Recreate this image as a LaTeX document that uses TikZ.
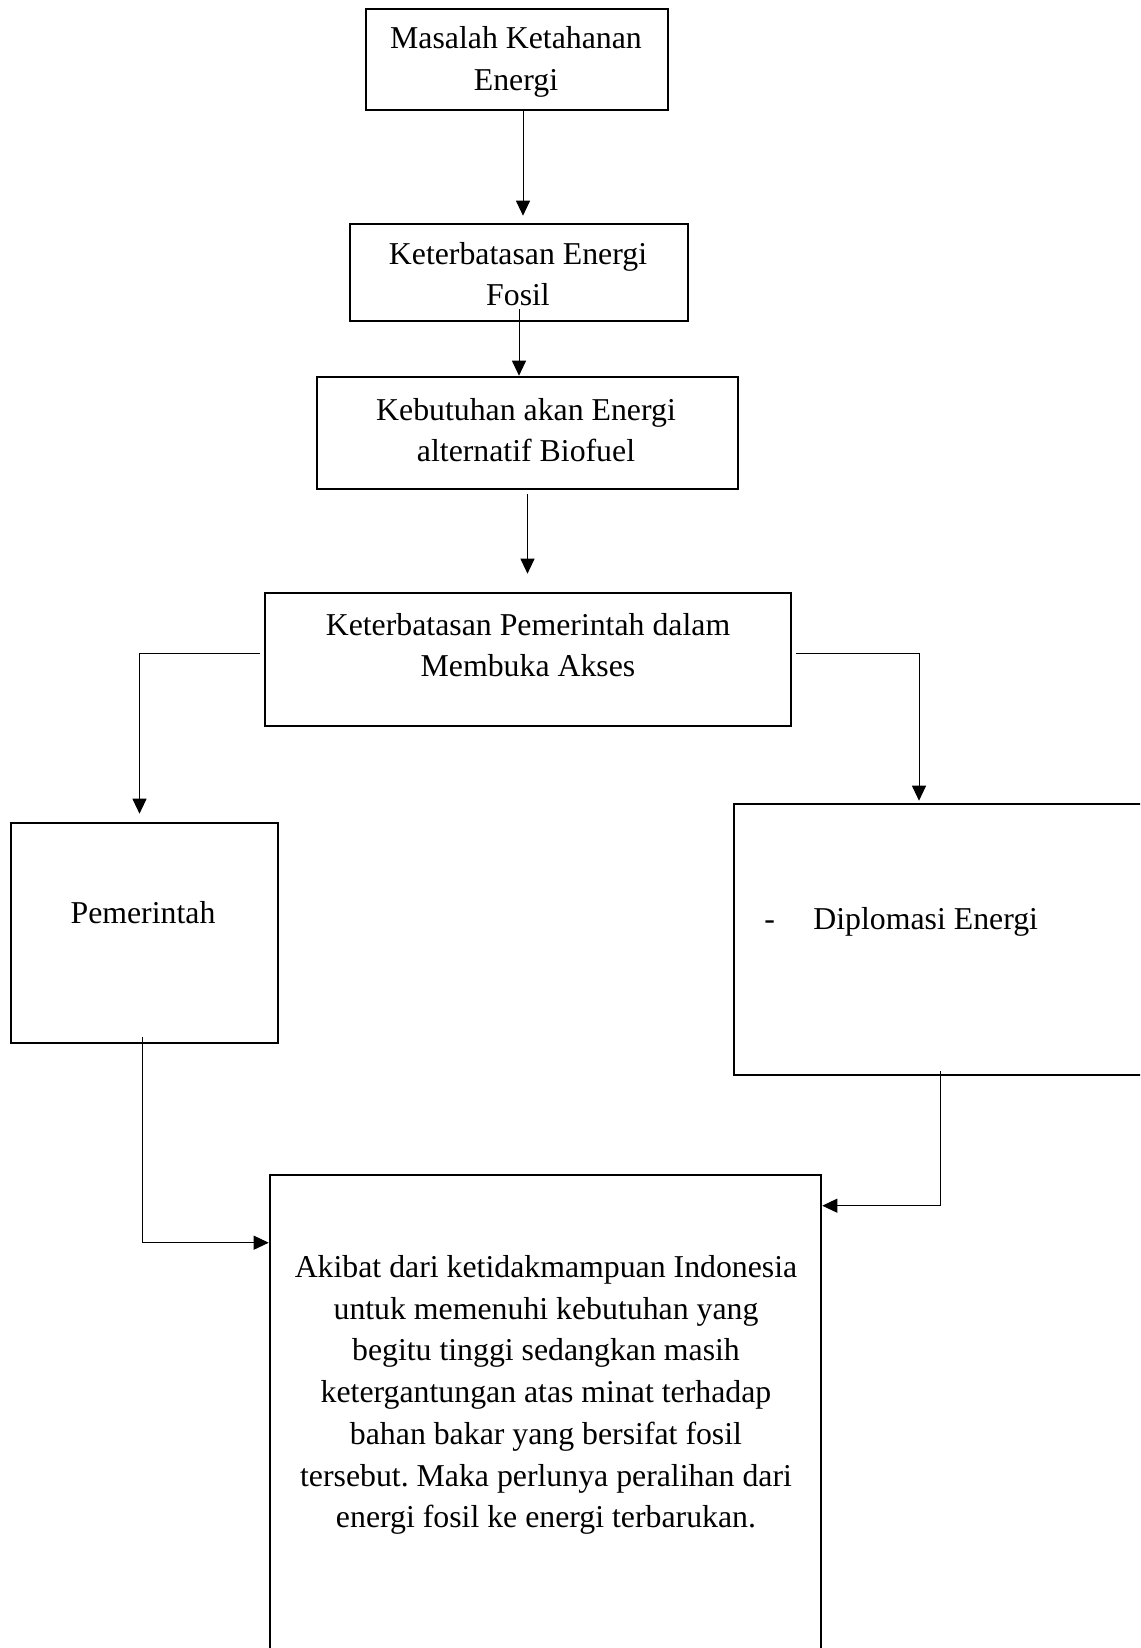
\documentclass[tikz,border=0pt]{standalone}
\usepackage{fontspec}
\setmainfont{Liberation Serif}
\usepackage{tikz}
\usetikzlibrary{arrows.meta}
\frenchspacing

\begin{document}
\begin{tikzpicture}[x=0.5pt, y=-0.5pt,
    box/.style={draw, line width=1.3pt, inner sep=0pt},
    txt/.style={align=center, inner sep=0pt, font=\fontsize{15.9pt}{20.85pt}\selectfont},
    arr/.style={-{Triangle[length=7.5pt,width=7pt]}, line width=0.5pt}]
    \useasboundingbox (0,0) rectangle (1140,1648);
    \fill[white] (0,0) rectangle (1140,1648);
    \clip (0,0) rectangle (1140,1648);

    \node[box, minimum width=151pt, minimum height=50.5pt] (masalah) at (517,59.5) {};
    \node[txt] (masalah-txt) at (516,62) {Masalah Ketahanan\\Energi};
    \node[box, minimum width=169pt, minimum height=48.5pt] (fosil) at (519,272.5) {};
    \node[txt] (fosil-txt) at (518,274) {Keterbatasan Energi\\Fosil};
    \node[box, minimum width=210.5pt, minimum height=56pt] (biofuel) at (527.5,433) {};
    \node[txt] (biofuel-txt) at (526,430) {Kebutuhan akan Energi\\alternatif Biofuel};
    \node[box, minimum width=263pt, minimum height=66.5pt] (akses) at (528,659.5) {};
    \node[txt] (akses-txt) at (528,645) {Keterbatasan Pemerintah dalam\\Membuka Akses};
    \node[box, minimum width=133.5pt, minimum height=110pt] (pemerintah) at (144.5,933) {};
    \node[txt] (pemerintah-txt) at (143,913) {Pemerintah};
    \node[box, minimum width=208pt, minimum height=135.5pt] (diplomasi) at (942,939.5) {};
    \node[txt, anchor=west] (diplomasi-txt) at (764,922) {-\hspace{19.2pt}Diplomasi Energi};
    \node[box, minimum width=275.5pt, minimum height=262.5pt] (akibat) at (545.5,1437.5) {};
    \node[txt] (akibat-txt) at (546,1395) {Akibat dari ketidakmampuan Indonesia\\
        untuk memenuhi kebutuhan yang\\
        begitu tinggi sedangkan masih\\
        ketergantungan atas minat terhadap\\
        bahan bakar yang bersifat fosil\\
        tersebut. Maka perlunya peralihan dari\\
        energi fosil ke energi terbarukan.};

    \draw[arr, shorten >=3.5pt] ([xshift=3pt]masalah.south) -- ([xshift=3pt]masalah.south |- fosil.north);
    \draw[arr] ([yshift=6.5pt]fosil.south) -- (fosil.south |- biofuel.north);
    \draw[arr, shorten <=2pt, shorten >=9pt] (biofuel.south) -- (biofuel.south |- akses.north);
    \draw[arr, shorten >=4pt] ([xshift=-2pt,yshift=3.25pt]akses.west) -| ([xshift=-2.5pt]pemerintah.north);
    \draw[arr, shorten >=1pt] ([xshift=2pt,yshift=3.25pt]akses.east) -| ([xshift=-11.5pt]diplomasi.north);
    \draw[arr] ([xshift=-1.25pt,yshift=3.5pt]pemerintah.south) |- ([yshift=-34.5pt]akibat.north west);
    \draw[arr] ([xshift=-1pt,yshift=2.5pt]diplomasi.south) |- ([yshift=-16pt]akibat.north east);
\end{tikzpicture}
\end{document}
